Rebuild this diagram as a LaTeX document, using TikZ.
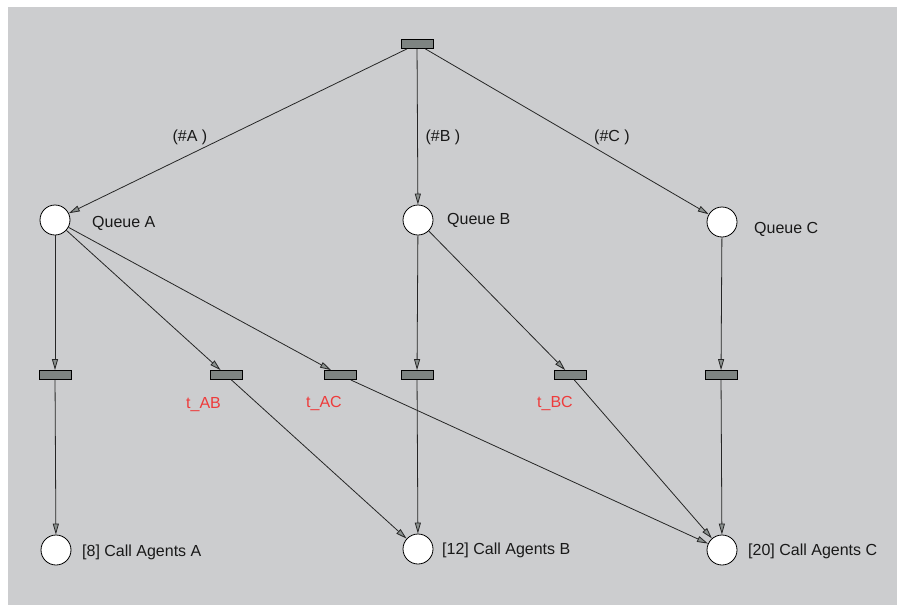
\documentclass[tikz,border=0pt]{standalone}
\usepackage{fontspec}
\setmainfont{Liberation Sans}
\usetikzlibrary{arrows.meta}
\definecolor{canvas}{HTML}{CCCDCF}
\definecolor{transfill}{HTML}{7E8482}
\definecolor{headfill}{HTML}{8A908E}
\definecolor{labelred}{HTML}{EE3B3B}
\tikzset{
  place/.style={circle, draw=black, line width=0.8pt, fill=white, minimum size=30pt, inner sep=0pt},
  trans/.style={rectangle, draw=black, line width=0.8pt, fill=transfill, minimum width=32pt, minimum height=9pt, inner sep=0pt},
  lbl/.style={font=\fontsize{16}{18}\selectfont, text=black!90, inner sep=0pt},
  tlbl/.style={lbl, text=labelred},
  arc/.style={draw=black!85, line width=0.8pt,
    -{Triangle[length=11pt, width=6pt, fill=headfill, line width=0.8pt]}}
}
\begin{document}
\begin{tikzpicture}[x=1pt, y=-1pt]
  % canvas
  \useasboundingbox (0,0) rectangle (901,605);
  \fill[white] (0,0) rectangle (901,605);
  \fill[canvas] (8,7) rectangle (897,605);

  % transitions
  \node[trans] (t0)  at (417,44) {};
  \node[trans] (tA)  at (55,375) {};
  \node[trans] (tAB) at (226,375) {};
  \node[trans] (tAC) at (340,375) {};
  \node[trans] (tB)  at (417,375) {};
  \node[trans] (tBC) at (570,375) {};
  \node[trans] (tC)  at (721,375) {};

  % places
  \node[place] (qA) at (55,220) {};
  \node[place] (qB) at (418,220) {};
  \node[place] (qC) at (722,222) {};
  \node[place] (cA) at (56,550) {};
  \node[place] (cB) at (418,549) {};
  \node[place] (cC) at (722,550) {};

  % place labels
  \node[lbl, anchor=west] (lqA) at (92,223) {Queue A};
  \node[lbl, anchor=west] (lqB) at (447,220) {Queue B};
  \node[lbl, anchor=west] (lqC) at (754,229) {Queue C};
  \node[lbl, anchor=west] (lcA) at (82,552) {[8] Call Agents A};
  \node[lbl, anchor=west] (lcB) at (442,550) {[12] Call Agents B};
  \node[lbl, anchor=west] (lcC) at (748,551) {[20] Call Agents C};

  % transition labels
  \node[tlbl, anchor=west] (ltAB) at (186,405) {t\_AB};
  \node[tlbl, anchor=west] (ltAC) at (306,403) {t\_AC};
  \node[tlbl, anchor=west] (ltBC) at (537,403) {t\_BC};

  % arc weights
  \node[lbl] (wA) at (190,137) {(\#A )};
  \node[lbl] (wB) at (443,137) {(\#B )};
  \node[lbl] (wC) at (612,137) {(\#C )};

  % arcs
  \draw[arc] (t0) -- (qA);
  \draw[arc] (t0) -- (qB);
  \draw[arc] (t0) -- (qC);

  \draw[arc] (qA) -- (tA);
  \draw[arc] (qA) -- (tAB);
  \draw[arc] (qA) -- (tAC);
  \draw[arc] (qB) -- (tB);
  \draw[arc] (qB) -- (tBC);
  \draw[arc] (qC) -- (tC);

  \draw[arc] (tA) -- (cA);
  \draw[arc] (tAB) -- (cB);
  \draw[arc] (tB) -- (cB);
  \draw[arc] (tAC) -- (cC);
  \draw[arc] (tBC) -- (cC);
  \draw[arc] (tC) -- (cC);
\end{tikzpicture}
\end{document}
